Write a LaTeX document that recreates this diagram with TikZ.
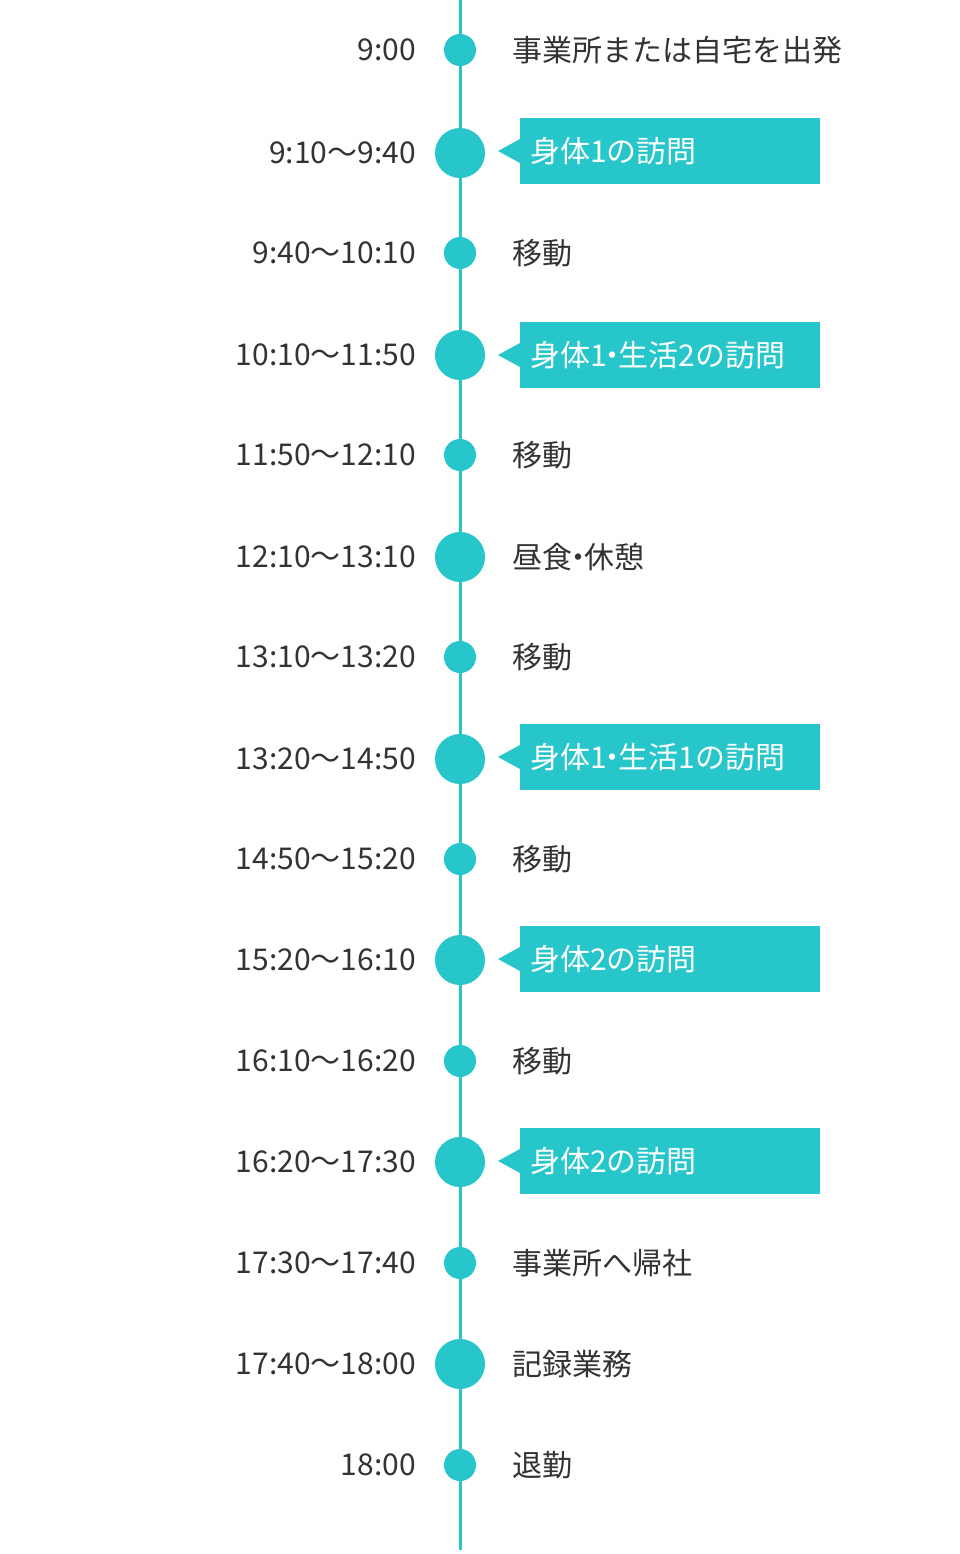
\documentclass[tikz,border=0pt]{standalone}
\usepackage{fontspec}
\setmainfont{Noto Sans CJK JP}
\definecolor{teal1}{HTML}{26C6CA}
\definecolor{txt}{HTML}{333333}
\newcommand{\nd}{\kern-0.3em・\kern-0.3em}
\begin{document}
\begin{tikzpicture}[x=1pt,y=-1pt,
  tm/.style={anchor=east,text=txt,font=\fontsize{30}{34}\selectfont,inner sep=0},
  lb/.style={anchor=west,text=txt,font=\fontsize{30}{34}\selectfont,inner sep=0},
  bx/.style={anchor=west,fill=teal1,text=white,minimum width=300pt,minimum height=66pt,text width=280pt,inner xsep=10pt,font=\fontsize{30}{34}\selectfont},
  big/.style={circle,fill=teal1,minimum size=50pt,inner sep=0},
  sml/.style={circle,fill=teal1,minimum size=32pt,inner sep=0}]
\useasboundingbox (0,0) rectangle (960,1554);
\coordinate (top) at (460,0); \coordinate (bot) at (460,1550);
\draw[teal1,line width=3pt] (top) -- (bot);
\foreach \y/\t/\s/\n in {50/9:00/sml/a,153/9:10〜9:40/big/b,253/9:40〜10:10/sml/c,355/10:10〜11:50/big/d,455/11:50〜12:10/sml/e,557/12:10〜13:10/big/f,657/13:10〜13:20/sml/g,759/13:20〜14:50/big/h,859/14:50〜15:20/sml/i,960/15:20〜16:10/big/j,1061/16:10〜16:20/sml/k,1162/16:20〜17:30/big/l,1263/17:30〜17:40/sml/m,1364/17:40〜18:00/big/n,1465/18:00/sml/o}{
  \node[\s] (c\n) at (460,\y) {};
  \node[tm] (t\n) at (416,\y) {\t};
}
\foreach \y/\t/\n in {50/事業所または自宅を出発/a,253/移動/c,455/移動/e,557/昼食\nd 休憩/f,657/移動/g,859/移動/i,1061/移動/k,1263/事業所へ帰社/m,1364/記録業務/n,1465/退勤/o}{
  \node[lb] (l\n) at (512,\y) {\t};
}
\foreach \y/\t/\n in {151/身体1の訪問/b,355/身体1\nd 生活2の訪問/d,757/身体1\nd 生活1の訪問/h,959/身体2の訪問/j,1161/身体2の訪問/l}{
  \node[bx] (x\n) at (520,\y) {\t};
  \fill[teal1] (xb.west|-0,\y) ++(0,-12) -- ++(-22,12) -- ++(22,12) -- cycle;
}
\end{tikzpicture}
\end{document}
